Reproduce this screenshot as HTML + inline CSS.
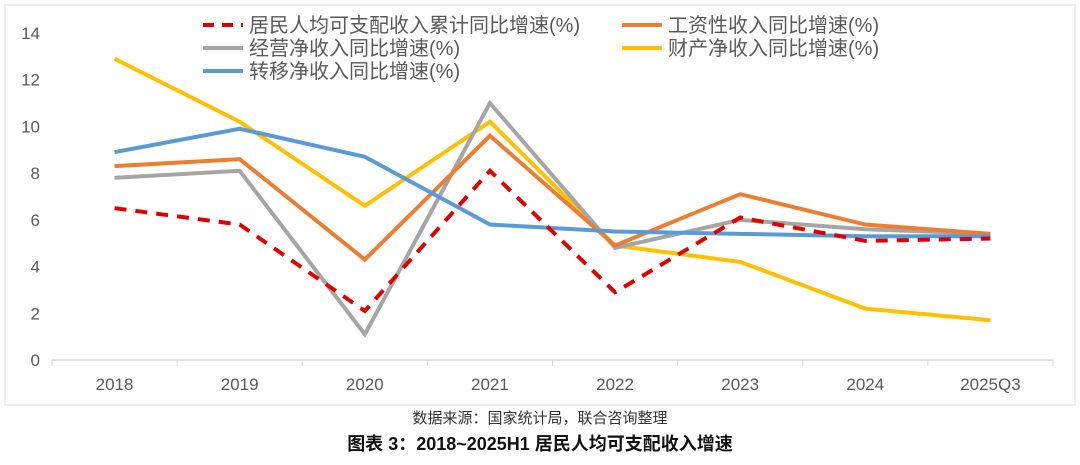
<!DOCTYPE html>
<html><head><meta charset="utf-8"><style>
body{margin:0;background:#fff;}
svg text{font-family:"Liberation Sans","Noto Sans CJK SC",sans-serif;}
</style></head><body>
<svg width="1080" height="460" viewBox="0 0 1080 460">
<rect x="5" y="5" width="1070" height="400" fill="#fff" stroke="#d9d9d9"/>
<g id="axes"></g><g id="series"></g><g id="legend"></g>
<text x="540" y="423" text-anchor="middle" font-size="15" fill="#333">数据来源：国家统计局，联合咨询整理</text>
<text x="540" y="450" text-anchor="middle" font-size="18" font-weight="bold" fill="#111">图表 3：2018~2025H1 居民人均可支配收入增速</text>
</svg>
<script>
const categories=["2018","2019","2020","2021","2022","2023","2024","2025Q3"];
const yTicks=[0,2,4,6,8,10,12,14];
const resident=[6.5,5.8,2.1,8.1,2.9,6.1,5.1,5.2];
const wage=[8.3,8.6,4.3,9.6,4.9,7.1,5.8,5.4];
const business=[7.8,8.1,1.1,11.0,4.8,6.0,5.6,5.4];
const property=[12.9,10.2,6.6,10.2,4.9,4.2,2.2,1.7];
const transfer=[8.9,9.9,8.7,5.8,5.5,5.4,5.3,5.3];
const seriesNames=["居民人均可支配收入累计同比增速(%)","工资性收入同比增速(%)","经营净收入同比增速(%)","财产净收入同比增速(%)","转移净收入同比增速(%)"];
const NS="http://www.w3.org/2000/svg";
const L=52,R=1053,Y0=360,Y14=33;
const bw=(R-L)/categories.length;
const xs=i=>L+bw*(i+0.5);
const ys=v=>Y0-(Y0-Y14)*v/14;
function mk(t,a,p){const e=document.createElementNS(NS,t);for(const k in a)e.setAttribute(k,a[k]);p.appendChild(e);return e;}
const ax=document.getElementById('axes');
yTicks.forEach(v=>{const t=mk('text',{x:40,y:ys(v)+6,'text-anchor':'end','font-size':17,fill:'#595959'},ax);t.textContent=v;

});
const axl=mk('line',{x1:L,x2:R,y1:Y0,y2:Y0,stroke:'#d9d9d9','stroke-width':1.5},ax);


for(let i=0;i<=categories.length;i++){const tk=mk('line',{x1:L+bw*i,x2:L+bw*i,y1:Y0,y2:Y0+6,stroke:'#d9d9d9'},ax);

}
categories.forEach((c,i)=>{const t=mk('text',{x:xs(i),y:390,'text-anchor':'middle','font-size':17,fill:'#595959'},ax);t.textContent=c;

});
const sg=document.getElementById('series');
const defs=[
 [property,'#ffc000',null,'series-property'],
 [business,'#a5a5a5',null,'series-business'],
 [wage,'#ed7d31',null,'series-wage'],
 [transfer,'#5b9bd5',null,'series-transfer'],
 [resident,'#e00000','12 9','series-resident']];
defs.forEach(([d,c,da,n])=>{const p=mk('polyline',{points:d.map((v,i)=>xs(i)+','+ys(v)).join(' '),fill:'none',stroke:c,'stroke-width':4,'stroke-linejoin':'miter'},sg);
if(da)p.setAttribute('stroke-dasharray',da);

});
const lg=document.getElementById('legend');
const leg=[[203,25,'#e00000','12 9',0],[622,25,'#ed7d31',null,1],[203,48,'#a5a5a5',null,2],[622,48,'#ffc000',null,3],[203,71,'#5b9bd5',null,4]];
leg.forEach(([x,y,c,da,k])=>{const l=mk('line',{x1:x,x2:x+40,y1:y,y2:y,stroke:c,'stroke-width':4},lg);
if(da)l.setAttribute('stroke-dasharray','11 8');


const t=mk('text',{x:x+46,y:y+7,'font-size':20,fill:'#595959'},lg);t.textContent=seriesNames[k];

});
</script>
</body></html>
